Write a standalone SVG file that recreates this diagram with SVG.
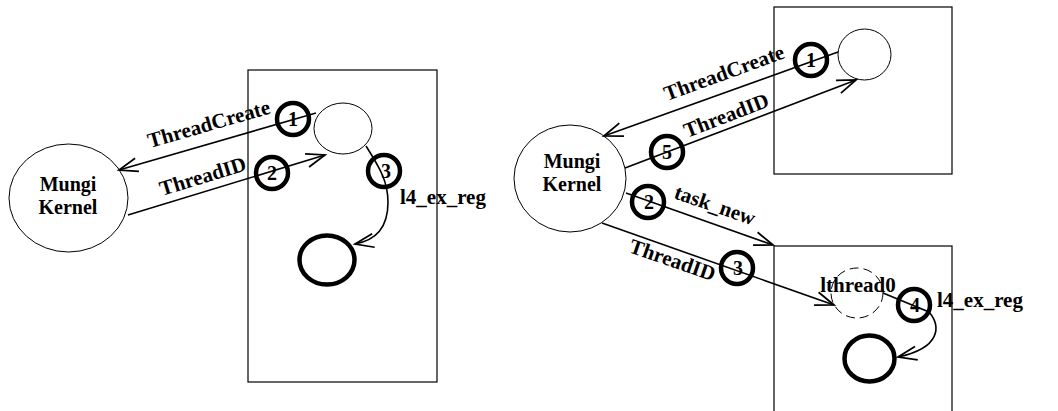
<svg xmlns="http://www.w3.org/2000/svg" width="1058" height="411" viewBox="0 0 1058 411">
<style>
text{font-family:"Liberation Serif","Times New Roman",serif;font-weight:bold;font-size:21px;fill:#000}
.kt{font-size:20px;text-anchor:middle}
.thin{fill:#fff;stroke:#000;stroke-width:1}
.box{fill:none;stroke:#000;stroke-width:1.2}
.thick{fill:none;stroke:#000;stroke-width:4.5}
.step{fill:none;stroke:#000;stroke-width:4.5}
.conn{fill:none;stroke:#000;stroke-width:1.6;marker-end:url(#arr)}
.dash{fill:#fff;stroke:#000;stroke-width:1;stroke-dasharray:9 5}
.num{text-anchor:middle;font-size:20px}
</style>
<defs>
<marker id="arr" markerUnits="userSpaceOnUse" markerWidth="30" markerHeight="30" refX="0" refY="0" viewBox="-20 -10 24 20" orient="auto" overflow="visible">
<path d="M-15,-5.5 L0,0 L-15,5.5" fill="none" stroke="#000" stroke-width="1.4"/>
</marker>
</defs>
<rect width="1058" height="411" fill="#fff"/>

<!-- Left diagram -->
<g id="left-box"><rect class="box" x="248" y="70" width="189" height="312"/></g>
<g id="left-kernel">
<ellipse class="thin" cx="68.5" cy="198" rx="59.5" ry="54"/>
<text class="kt" x="68" y="191">Mungi</text>
<text class="kt" x="68" y="214">Kernel</text>
</g>
<g id="left-thread"><ellipse class="thin" cx="343" cy="128.5" rx="29" ry="25.5"/></g>
<g id="left-exthread"><ellipse class="thick" cx="327" cy="260" rx="27.5" ry="24.5"/></g>

<!-- Right diagram -->
<g id="right-top-box"><rect class="box" x="774" y="7" width="178" height="167"/></g>
<g id="right-bottom-box"><rect class="box" x="774" y="246" width="178" height="200"/></g>
<g id="right-kernel">
<ellipse class="thin" cx="570" cy="178.5" rx="56" ry="53.5"/>
<text class="kt" x="572" y="168">Mungi</text>
<text class="kt" x="572" y="191">Kernel</text>
</g>
<g id="right-thread"><ellipse class="thin" cx="864.5" cy="54.5" rx="26.5" ry="25.5"/></g>
<g id="right-lthread0">
<ellipse class="dash" cx="857" cy="293" rx="26" ry="25"/>
<text x="858" y="292" text-anchor="middle">lthread0</text>
</g>
<g id="right-exthread"><ellipse class="thick" cx="869.5" cy="358.5" rx="25" ry="23"/></g>

<g id="connectors">
<!-- left -->
<line class="conn" x1="316" y1="113" x2="119" y2="170"/>
<line class="conn" x1="128" y1="215" x2="325" y2="155"/>
<path class="conn" d="M366,146 C380,168 388,182 388,202 C388,228 376,240 355,244"/>
<!-- right -->
<line class="conn" x1="838" y1="52" x2="604" y2="136"/>
<line class="conn" x1="625" y1="168" x2="856" y2="80"/>
<line class="conn" x1="626" y1="193" x2="773" y2="245"/>
<line class="conn" x1="602" y1="223" x2="834" y2="305"/>
<path class="conn" d="M883,293 L929,312 C941,326 941,348 898,357"/>
</g>

<g id="labels">
<text transform="translate(150,148) rotate(-16)">ThreadCreate</text>
<text transform="translate(162,196) rotate(-17)">ThreadID</text>
<text x="400" y="204">l4_ex_reg</text>
<text transform="translate(667,101) rotate(-20)">ThreadCreate</text>
<text transform="translate(687,138) rotate(-21)">ThreadID</text>
<text transform="translate(673,198) rotate(19)">task_new</text>
<text transform="translate(628,252) rotate(19)">ThreadID</text>
<text x="937" y="307">l4_ex_reg</text>
</g>

<g id="step-1-left"><circle class="step" cx="293" cy="119" r="16"/><text class="num" x="293" y="126">1</text></g>
<g id="step-2-left"><circle class="step" cx="272" cy="173" r="16"/><text class="num" x="272" y="180">2</text></g>
<g id="step-3-left"><circle class="step" cx="384" cy="171" r="16"/><text class="num" x="386" y="178">3</text></g>
<g id="step-1-right"><circle class="step" cx="811" cy="60" r="16"/><text class="num" x="811" y="67">1</text></g>
<g id="step-5-right"><circle class="step" cx="667" cy="152" r="16"/><text class="num" x="667" y="159">5</text></g>
<g id="step-2-right"><circle class="step" cx="648" cy="202" r="16"/><text class="num" x="649" y="209">2</text></g>
<g id="step-3-right"><circle class="step" cx="737" cy="268" r="16"/><text class="num" x="738" y="275">3</text></g>
<g id="step-4-right"><circle class="step" cx="914" cy="305" r="16"/><text class="num" x="915" y="312">4</text></g>
</svg>
